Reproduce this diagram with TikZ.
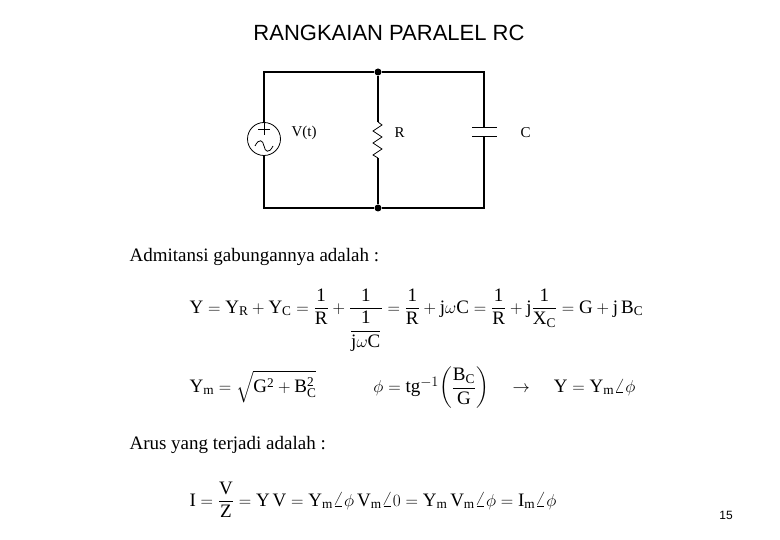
\documentclass[tikz,border=0pt]{standalone}
\usepackage{amsmath}
\usepackage{fontspec}
\setmainfont{Liberation Serif}
\newfontfamily\ttl{Liberation Sans}
\begin{document}
\begin{tikzpicture}[x=1pt,y=-1pt,wire/.style={line width=1.2pt},dot/.style={circle,fill,inner sep=0pt,minimum size=7pt},
lab/.style={font=\fontsize{15}{17}\selectfont},eq/.style={anchor=west,font=\fontsize{19}{22}\selectfont}]
\useasboundingbox[fill=white] (0,0) rectangle (780,540);
\node[font=\ttl\fontsize{22}{24}\selectfont] (title) at (389,33) {RANGKAIAN PARALEL RC};
% circuit
\coordinate (tl) at (264,72); \coordinate (bl) at (264,208);
\node[dot] (tm) at (378,72) {}; \node[dot] (bm) at (378,208) {};
\coordinate (tr) at (484,72); \coordinate (br) at (484,208);
\node[circle,draw,line width=0.8pt,minimum size=33pt,inner sep=0pt] (src) at (264,139) {};
\draw[line width=0.8pt] (258,129)--(270,129) (264,123)--(264,135);
\draw[line width=0.8pt] (255,146) .. controls (259,138) and (263,140) .. (264,146) .. controls (265,152) and (269,154) .. (273,146);
\draw[wire] (src.north)--(tl)--(tm)--(tr)--(484,128);
\draw[wire] (src.south)--(bl)--(bm)--(br)--(484,137);
\draw[line width=1pt] (472,128)--(497,128) (472,137)--(497,137);
\draw[wire] (tm)--(378,122);
\draw[line width=0.8pt] (378,122)--(382,125)--(373,131)--(382,137)--(373,143)--(382,149)--(373,155)--(378,158);
\draw[wire] (378,158)--(bm);
\node[lab,anchor=west] (vt) at (288,133) {V(t)};
\node[lab,anchor=west] (r) at (391,133) {R};
\node[lab,anchor=west] (c) at (517,133) {C};
% text
\node[eq] (t1) at (126,257) {Admitansi gabungannya adalah :};
\node[eq] (e1) at (186,320) {$\mathrm{Y = Y_R + Y_C = \dfrac{1}{R} + \dfrac{1}{\dfrac{1}{j\omega C}} = \dfrac{1}{R} + j\omega C = \dfrac{1}{R} + j\dfrac{1}{X_C} = G + j\,B_C}$};
\node[eq] (e2) at (186,388) {$\mathrm{Y_m = \sqrt{G^2+B_C^2}}\qquad\quad \phi=\mathrm{tg}^{-1}\!\left(\dfrac{\mathrm{B_C}}{\mathrm{G}}\right)\quad\rightarrow\quad \mathrm{Y=Y_m}\angle\phi$};
\node[eq] (t2) at (126,445) {Arus yang terjadi adalah :};
\node[eq] (e3) at (186,500) {$\mathrm{I=\dfrac{V}{Z}=Y\,V=Y_m}\angle\phi\,\mathrm{V_m}\angle 0=\mathrm{Y_m\,V_m}\angle\phi=\mathrm{I_m}\angle\phi$};
\node[font=\ttl\fontsize{12}{14}\selectfont] (pg) at (726,515) {15};
\end{tikzpicture}
\end{document}
